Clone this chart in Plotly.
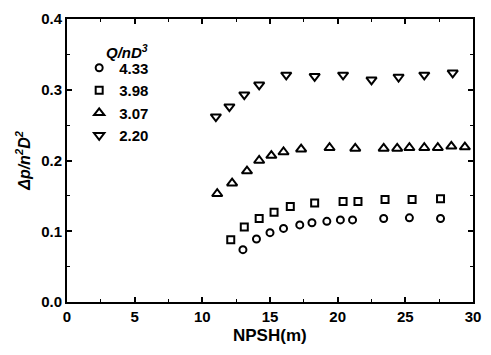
import plotly.graph_objects as go

# NPSH (m) and dimensionless pressure rise for each flow coefficient Q/nD^3
npsh_433 = [13.0, 14.0, 15.0, 16.0, 17.2, 18.1, 19.2, 20.2, 21.1, 23.4, 25.3, 27.6]
dp_433 = [0.074, 0.089, 0.098, 0.104, 0.109, 0.112, 0.114, 0.116, 0.116, 0.118, 0.119, 0.118]

npsh_398 = [12.1, 13.1, 14.2, 15.3, 16.5, 18.3, 20.4, 21.5, 23.5, 25.5, 27.6]
dp_398 = [0.088, 0.106, 0.118, 0.127, 0.135, 0.140, 0.142, 0.142, 0.145, 0.145, 0.146]

npsh_307 = [11.1, 12.2, 13.3, 14.2, 15.1, 16.0, 17.3, 19.4, 21.3, 23.4, 24.4, 25.3, 26.4, 27.4, 28.4, 29.4]
dp_307 = [0.153, 0.168, 0.185, 0.200, 0.207, 0.212, 0.216, 0.218, 0.217, 0.217, 0.217, 0.218, 0.218, 0.218, 0.220, 0.219]

npsh_220 = [11.0, 12.0, 13.1, 14.2, 16.2, 18.3, 20.4, 22.5, 24.5, 26.4, 28.5]
dp_220 = [0.262, 0.276, 0.293, 0.307, 0.321, 0.319, 0.321, 0.314, 0.318, 0.321, 0.324]

series = [
    ("4.33", npsh_433, dp_433, "circle-open", 7),
    ("3.98", npsh_398, dp_398, "square-open", 7),
    ("3.07", npsh_307, dp_307, "triangle-up-open", 9),
    ("2.20", npsh_220, dp_220, "triangle-down-open", 9),
]

FONT = "Liberation Sans, Arial, sans-serif"

fig = go.Figure()
for name, x, y, sym, size in series:
    fig.add_trace(go.Scatter(
        x=x, y=y, mode="markers", name=name,
        marker=dict(symbol=sym, size=size, color="black", line=dict(color="black", width=2)),
    ))

axis_common = dict(
    showline=True, linecolor="black", linewidth=2, mirror="ticks",
    ticks="inside", ticklen=5, tickwidth=1.5, tickcolor="black",
    showgrid=False, zeroline=False,
    tickfont=dict(family=FONT, size=15, color="black", weight="bold"),
)

fig.update_xaxes(
    range=[0, 30], tickvals=[0, 5, 10, 15, 20, 25, 30],
    minor=dict(ticks="inside", dtick=2.5, ticklen=3, tickwidth=1.2, tickcolor="black"),
    **axis_common,
)
fig.update_yaxes(
    range=[0, 0.4], tickvals=[0.0, 0.1, 0.2, 0.3, 0.4], tickformat=".1f",
    minor=dict(ticks="inside", dtick=0.05, ticklen=3, tickwidth=1.2, tickcolor="black"),
    **axis_common,
)

fig.add_annotation(
    text="NPSH(m)", xref="paper", yref="paper", x=0.5, y=-0.12,
    xanchor="center", yanchor="middle", showarrow=False,
    font=dict(family=FONT, size=17, color="black", weight="bold"),
)
fig.add_annotation(
    text="<i>Δp/n<sup>2</sup>D<sup>2</sup></i>", xref="paper", yref="paper",
    x=-0.11, y=0.5, xanchor="center", yanchor="middle", textangle=-90,
    showarrow=False, font=dict(family=FONT, size=16, color="black", weight="bold"),
)
# legend heading
fig.add_annotation(
    text="<i>Q/nD<sup>3</sup></i>", xref="paper", yref="paper",
    x=0.148, y=0.885, xanchor="center", yanchor="middle", showarrow=False,
    font=dict(family=FONT, size=15, color="black", weight="bold"),
)

fig.update_layout(
    width=491, height=355,
    margin=dict(l=67, r=10, t=16, b=53),
    paper_bgcolor="white", plot_bgcolor="white",
    showlegend=True,
    legend=dict(
        x=0.03, y=0.885, xanchor="left", yanchor="top",
        bgcolor="rgba(0,0,0,0)", borderwidth=0,
        font=dict(family=FONT, size=15, color="black", weight="bold"),
        itemwidth=30,
    ),
)

fig.write_html("out.html")
